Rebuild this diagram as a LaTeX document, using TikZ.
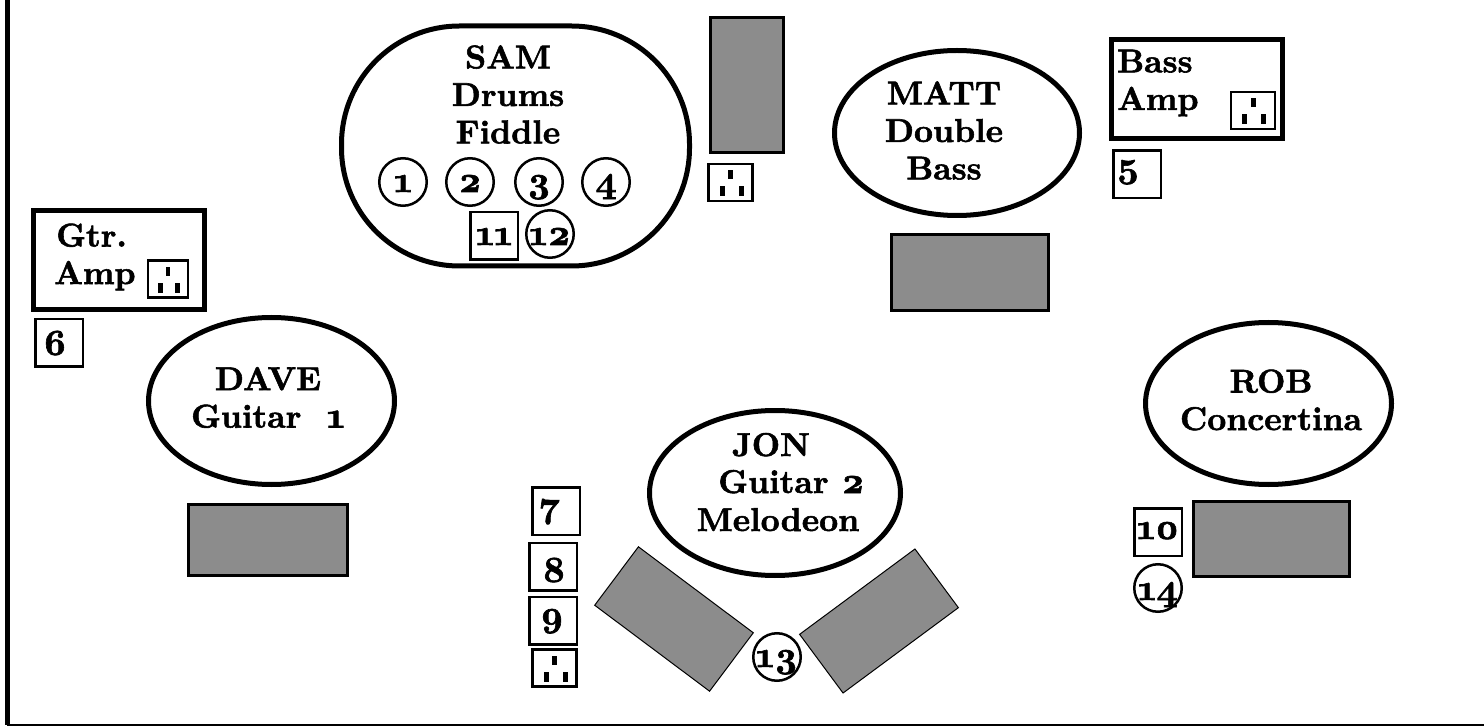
\documentclass[tikz,border=0pt]{standalone}
\usepackage{fontspec}
\setmainfont{lmroman10-regular.otf}[BoldFont=lmroman10-bold.otf,Numbers=OldStyle,BoldFeatures={FakeBold=1.7}]
\usepackage{tikz}
\usetikzlibrary{shapes.geometric}

\newcommand{\dig}[1]{{\fontsize{37}{37.5}\selectfont #1}}

\tikzset{
  player/.style = {draw,ellipse,line width=5,inner sep=0,outer sep=0},
  pad/.style = {draw,fill=black!45,line width=3,inner sep=0,outer sep=0},
  numbox/.style = {draw,line width=2.5,inner sep=0,minimum size=47.5,text height=20,text depth=0,
        font=\bfseries\fontsize{37}{37.5}\selectfont},
  numring/.style = {numbox,circle},
  numtxt/.style = {anchor=base,inner sep=0,font=\bfseries\fontsize{37}{37.5}\selectfont},
  amp/.style = {draw,line width=5,inner sep=0},
  words/.style = {align=center,inner sep=0,font=\bfseries\fontsize{33}{37.5}\selectfont},
  oneline/.style = {words,anchor=base},
  outlet/.pic = {
    \draw[line width=2.5,fill=white] (-22,-18.5) rectangle (22,18.5);
    \fill (-2.5,-12) rectangle (2.5,-3);
    \fill (-11,4) rectangle (-6,14);
    \fill (8,4) rectangle (13,14);
  }
}

\begin{document}
\begin{tikzpicture}[x=1pt,y=-1pt]
 \useasboundingbox (0,0) rectangle (1484,727);

 % frame
 \coordinate (ftop) at (7,0);
 \coordinate (fcorner) at (7,725);
 \coordinate (fend) at (1484,725);
 \draw[line width=5] (ftop) -- (fcorner);
 \draw[line width=2] (fcorner) -- (fend);

 % SAM
 \node[draw,line width=5,rounded corners=118,minimum width=348,minimum height=240,inner sep=0] (sam) at(515.5,146) {};
 \node[words] (samtxt) at(508,94.5) {SAM\\ Drums\\ Fiddle};
 \node[numring] (r1) at(403,182) {1};
 \node[numring] (r2) at(470,182) {2};
 \node[numring] (r3) at(539,182) {3};
 \node[numring] (r4) at(606,182) {4};
 \node[numbox,text height=18] (n11) at(494,236) {11};
 \node[numring,text height=22] (r12) at(550,234) {12};
 \node[pad,minimum width=73,minimum height=135] (samgrey) at(747,85) {};
 \pic at(730.5,182.5) {outlet};

 % MATT
 \node[player,minimum width=245,minimum height=165] (matt) at(957,133) {};
 \node[words] (matttxt) at(944,130.5) {MATT\\ Double\\ Bass};
 \node[pad,minimum width=157,minimum height=76] (mattgrey) at(970,272.5) {};
 \node[amp,minimum width=171,minimum height=99] (bassamp) at(1197,89) {};
 \node[words,align=left,anchor=west] (basstxt) at(1117,83) {Bass\\ Amp};
 \pic at(1253,110.5) {outlet};
 \node[numbox] (n5) at(1137,174.5) {};
 \node[numtxt] (n5txt) at(1128,177) {5};

 % DAVE
 \node[amp,minimum width=171,minimum height=99] (gtramp) at(119,260) {};
 \node[words,align=left,anchor=west] (gtrtxt) at(54,257) {\hspace*{2pt}Gtr.\\ Amp};
 \pic[xscale=.9] at(168,279) {outlet};
 \node[numbox] (n6) at(59,343) {};
 \node[numtxt] (n6txt) at(55,355) {6};
 \node[player,minimum width=246,minimum height=167] (dave) at(271.5,401) {};
 \node[words] (davetxt) at(268,397.5) {DAVE\\ Guitar\ \ \dig{1}};
 \node[pad,minimum width=159,minimum height=71] (davegrey) at(267.5,539.5) {};

 % JON
 \node[player,minimum width=251,minimum height=165] (jon) at(775,493) {};
 \node[oneline] (jon1) at(771,456) {JON};
 \node[oneline] (jon2) at(791.5,493) {Guitar \dig{2}};
 \node[oneline] (jon3) at(778,531) {Melodeon};
 \node[pad,line width=1,minimum width=143.5,minimum height=73,rotate=-36.8] (jonleft) at(674,619) {};
 \node[pad,line width=1,minimum width=143.5,minimum height=73,rotate=36.5] (jonright) at(879,621) {};
 \node[numbox] (n7) at(556,511) {};
 \node[numtxt] (n7txt) at(550,517) {7};
 \node[numbox] (n8) at(553,566.5) {};
 \node[numtxt] (n8txt) at(554,582) {8};
 \node[numbox] (n9) at(553,620.5) {};
 \node[numtxt] (n9txt) at(552,626) {9};
 \pic at(554.5,668) {outlet};
 \node[numring] (r13) at(777,657) {13};

 % ROB
 \node[player,minimum width=246,minimum height=162] (rob) at(1268.5,403.5) {};
 \node[words] (robtxt) at(1271,400) {ROB\\ Concertina};
 \node[pad,minimum width=156,minimum height=75] (robgrey) at(1271.5,539) {};
 \node[numbox,text height=14] (n10) at(1158,532) {10};
 \node[numring,text height=24] (r14) at(1158,588) {14};
\end{tikzpicture}
\end{document}
